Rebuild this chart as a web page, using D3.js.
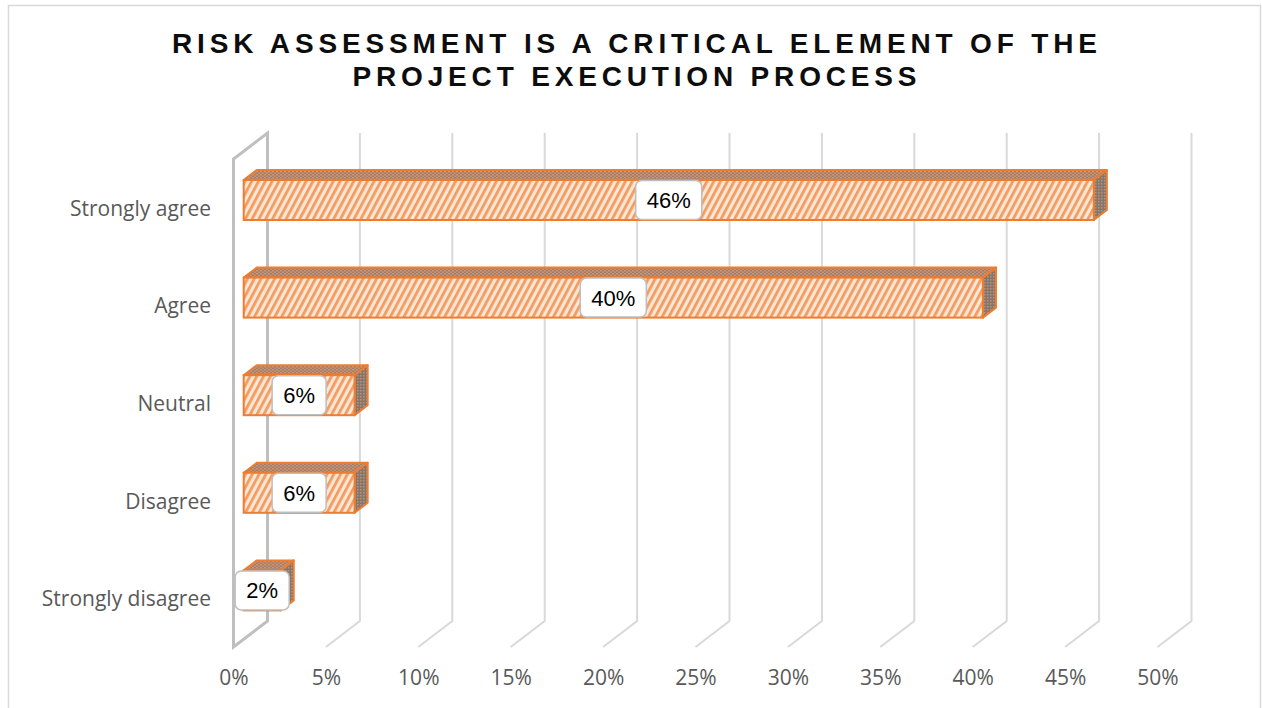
<!DOCTYPE html>
<html><head><meta charset="utf-8">
<script src="https://cdn.jsdelivr.net/npm/d3@7"></script>
<style>
html,body{margin:0;padding:0;background:#fff;}
svg{display:block;}
</style></head>
<body>
<svg id="chart" width="1262" height="708"></svg>
<script>
const titleLines = ["RISK ASSESSMENT IS A CRITICAL ELEMENT OF THE", "PROJECT EXECUTION PROCESS"];
const categories = ["Strongly agree", "Agree", "Neutral", "Disagree", "Strongly disagree"];
const values = [46, 40, 6, 6, 2];
const tickValues = [0, 5, 10, 15, 20, 25, 30, 35, 40, 45, 50];
const tickLabels = ["0%", "5%", "10%", "15%", "20%", "25%", "30%", "35%", "40%", "45%", "50%"];
const valueLabels = ["46%", "40%", "6%", "6%", "2%"];

const svg = d3.select("#chart");

// 3D oblique geometry
const DEPTH_X = 34, DEPTH_Y = -26;
const floorY = 647, topY = 159;
const barD1 = 0.3, barD2 = 0.685;

const x = d3.scaleLinear().domain([0, 50]).range([233.5, 1157.5]);
const y = d3.scaleBand().domain(categories).range([topY, floorY]);
const bw = y.bandwidth();
const barH = 40;

// outer border
svg.append("rect").attr("x", 8.5).attr("y", 5.5).attr("width", 1252).attr("height", 720)
  .attr("fill", "#fff").attr("stroke", "#d9d9d9").attr("stroke-width", 1.5);

// patterns
const defs = svg.append("defs");
const pf = defs.append("pattern").attr("id", "frontPat").attr("patternUnits", "userSpaceOnUse")
  .attr("width", 6).attr("height", 6).attr("patternTransform", "rotate(28)");
pf.append("rect").attr("width", 6).attr("height", 6).attr("fill", "#fde6d6");
pf.append("rect").attr("x", 0).attr("width", 2.8).attr("height", 6).attr("fill", "#f29c60");

const pt = defs.append("pattern").attr("id", "topPat").attr("patternUnits", "userSpaceOnUse")
  .attr("width", 4).attr("height", 3);
pt.append("rect").attr("width", 4).attr("height", 3).attr("fill", "#9f7d68");
pt.append("rect").attr("x", 0).attr("y", 0).attr("width", 2).attr("height", 1.5).attr("fill", "#d99465");
pt.append("rect").attr("x", 2).attr("y", 1.5).attr("width", 2).attr("height", 1.5).attr("fill", "#c4927a");

const ps = defs.append("pattern").attr("id", "sidePat").attr("patternUnits", "userSpaceOnUse")
  .attr("width", 3).attr("height", 3);
ps.append("rect").attr("width", 3).attr("height", 3).attr("fill", "#85766c");
ps.append("rect").attr("x", 0).attr("y", 0).attr("width", 1.5).attr("height", 1.5).attr("fill", "#b8927a");

// title
const title = svg.append("g");
const titleY = [53, 86];
const titleW = [925, 564];
titleLines.forEach((t, i) => {
  title.append("text")
    .attr("x", 634.5).attr("y", titleY[i])
    .attr("text-anchor", "middle")
    .attr("font-family", "Liberation Sans, Arial, sans-serif")
    .attr("font-weight", "bold").attr("font-size", 28)
    .attr("fill", "#0d0d0d")
    .attr("textLength", titleW[i]).attr("lengthAdjust", "spacing")
    .text(t);
});

// gridlines (floor + back wall)
const grid = svg.append("g");
tickValues.forEach(v => {
  if (v === 0) return;
  const xf = x(v);
  grid.append("path")
    .attr("d", `M${xf},${floorY} L${xf + DEPTH_X},${floorY + DEPTH_Y} L${xf + DEPTH_X},${topY + DEPTH_Y}`)
    .attr("fill", "none").attr("stroke", "#d9d9d9").attr("stroke-width", 2);
});
// side wall at 0
const x0 = x(0);
grid.append("path")
  .attr("d", `M${x0},${floorY} L${x0},${topY} L${x0 + DEPTH_X},${topY + DEPTH_Y} L${x0 + DEPTH_X},${floorY + DEPTH_Y} Z`)
  .attr("fill", "none").attr("stroke", "#bfbfbf").attr("stroke-width", 3).attr("stroke-linejoin", "miter");

// bars
const bars = svg.append("g");
const dx1 = DEPTH_X * barD1, dy1 = DEPTH_Y * barD1;
const ddx = DEPTH_X * (barD2 - barD1), ddy = DEPTH_Y * (barD2 - barD1);
categories.forEach((c, i) => {
  const cy = y(c) + bw / 2 + dy1;
  const xl = x(0) + dx1, xr = x(values[i]) + dx1;
  const yt = cy - barH / 2, yb = cy + barH / 2;
  const g = bars.append("g");
  g.append("path").attr("d", `M${xl},${yt} L${xl + ddx},${yt + ddy} L${xr + ddx},${yt + ddy} L${xr},${yt} Z`)
    .attr("fill", "url(#topPat)").attr("stroke", "#ed7d31").attr("stroke-width", 2).attr("stroke-linejoin", "round");
  g.append("path").attr("d", `M${xr},${yt} L${xr + ddx},${yt + ddy} L${xr + ddx},${yb + ddy} L${xr},${yb} Z`)
    .attr("fill", "url(#sidePat)").attr("stroke", "#ed7d31").attr("stroke-width", 2).attr("stroke-linejoin", "round");
  g.append("rect").attr("x", xl).attr("y", yt).attr("width", xr - xl).attr("height", barH)
    .attr("fill", "url(#frontPat)").attr("stroke", "#ed7d31").attr("stroke-width", 2);
});

// data labels
const labels = svg.append("g");
categories.forEach((c, i) => {
  const cy = y(c) + bw / 2 + dy1;
  const cx = (x(0) + x(values[i])) / 2 + dx1;
  const t = labels.append("text")
    .attr("x", cx).attr("y", cy + 8)
    .attr("text-anchor", "middle")
    .attr("font-family", "Liberation Sans, Arial, sans-serif")
    .attr("font-size", 22).attr("fill", "#000")
    .text(valueLabels[i]);
  const tw = t.node().getComputedTextLength();
  const bwid = Math.max(tw + 22, 54);
  labels.insert("rect", "text")
    .attr("x", cx - bwid / 2).attr("y", cy - 19.5)
    .attr("width", bwid).attr("height", 39).attr("rx", 6)
    .attr("fill", "#fff").attr("stroke", "#bfbfbf").attr("stroke-width", 1.5);
});

// x axis tick labels
const xAxis = svg.append("g").attr("transform", `translate(0,685)`)
  .call(d3.axisBottom(x).tickValues(tickValues).tickSize(0).tickPadding(0)
    .tickFormat((d, i) => tickLabels[i]));
xAxis.select(".domain").remove();
xAxis.selectAll("text").attr("y", 0).attr("dy", 0)
  .attr("font-family", "Open Sans, sans-serif").attr("font-size", 21).attr("fill", "#595959");

// category axis
const yAxis = svg.append("g").attr("transform", `translate(211,8)`)
  .call(d3.axisLeft(y).tickSize(0).tickPadding(0));
yAxis.select(".domain").remove();
yAxis.selectAll("text").attr("x", 0).attr("dy", 0)
  .attr("font-family", "Open Sans, sans-serif").attr("font-size", 21).attr("fill", "#595959");
</script>
</body></html>
